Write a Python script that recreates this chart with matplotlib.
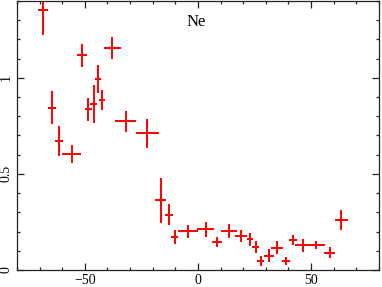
import matplotlib
matplotlib.use("Agg")
import matplotlib.pyplot as plt
from matplotlib.ticker import MultipleLocator

x = [-68.5, -64.7, -61.4, -55.8, -51.4, -48.5, -46.1, -44.1, -42.3, -37.9,
     -32.0, -22.4, -16.5, -12.8, -10.3, -4.4, 3.4, 8.5, 13.7, 19.1,
     23.0, 25.5, 27.7, 31.4, 35.0, 39.0, 42.1, 46.4, 52.3, 58.3, 63.3]
xerr = [2.2, 1.8, 1.8, 4.2, 2.2, 1.6, 1.5, 1.2, 1.3, 3.7,
        4.7, 5.2, 2.5, 1.7, 1.5, 4.5, 3.7, 2.2, 3.7, 2.7,
        1.5, 1.5, 1.5, 2.4, 2.7, 1.7, 1.8, 3.3, 3.7, 2.4, 2.9]
y = [1.355, 0.845, 0.673, 0.604, 1.116, 0.836, 0.862, 0.992, 0.883, 1.155,
     0.773, 0.712, 0.362, 0.288, 0.172, 0.202, 0.212, 0.146, 0.202, 0.176,
     0.159, 0.121, 0.047, 0.074, 0.115, 0.047, 0.155, 0.129, 0.129, 0.091, 0.259]
yerr = [0.13, 0.087, 0.078, 0.046, 0.06, 0.06, 0.099, 0.073, 0.052, 0.058,
        0.054, 0.075, 0.117, 0.053, 0.036, 0.034, 0.039, 0.026, 0.037, 0.03,
        0.034, 0.032, 0.027, 0.034, 0.034, 0.019, 0.026, 0.034, 0.022, 0.03, 0.053]

xticks = [-50, 0, 50]
xticklabels = ["\u221250", "0", "50"]
yticks = [0, 0.5, 1]
yticklabels = ["0", "0.5", "1"]
label = "Ne"

plt.rcParams['font.family'] = ['Liberation Serif', 'DejaVu Serif']

fig = plt.figure(figsize=(3.82, 2.87), dpi=100)
ax = fig.add_axes([0.0445, 0.0592, 0.9475, 0.9378])

ax.errorbar(x, y, xerr=xerr, yerr=yerr, fmt='none', ecolor='#ff0000',
            elinewidth=1.4, capsize=0)

ax.set_xlim(-80, 80)
ax.set_ylim(0, 1.4)
ax.set_xticks(xticks)
ax.set_xticklabels(xticklabels)
ax.set_yticks(yticks)
ax.set_yticklabels(yticklabels, rotation=90, va='center')
ax.xaxis.set_minor_locator(MultipleLocator(10))
ax.yaxis.set_minor_locator(MultipleLocator(0.1))
ax.tick_params(which='both', direction='in', top=True, right=True,
               labelsize=10, width=0.9, colors='#222222', labelcolor='black')
ax.tick_params(which='major', length=5)
ax.tick_params(which='minor', length=2.5)
ax.tick_params(axis='x', pad=3)
ax.tick_params(axis='y', pad=3)
for s in ax.spines.values():
    s.set_linewidth(0.9)
    s.set_color('#222222')

ax.text(0.469, 0.907, label, transform=ax.transAxes, fontsize=12,
        ha='left', va='baseline')

fig.savefig("out.png", dpi=100)
